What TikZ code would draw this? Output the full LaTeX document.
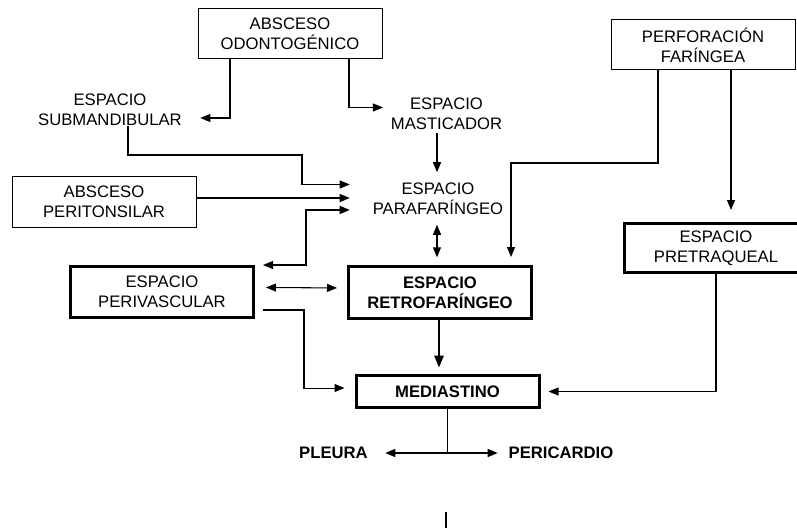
\documentclass[tikz,border=0pt]{standalone}
\usepackage{fontspec}
\setmainfont{Liberation Sans}
\usetikzlibrary{arrows.meta}

\tikzset{
  caja/.style={draw, line width=0.75pt, align=center, inner sep=0pt,
    minimum width=138pt, minimum height=37.5pt, font=\fontsize{12.5}{15}\selectfont},
  cajagruesa/.style={caja, line width=2.25pt, minimum width=137.25pt},
  texto/.style={align=center, inner sep=0pt, font=\fontsize{12.5}{15}\selectfont},
  flecha/.style={line width=0.8pt, -{Triangle[length=7.5pt,width=6pt]}},
  dobleflecha/.style={line width=0.8pt, {Triangle[length=7.5pt,width=6pt]}-{Triangle[length=7.5pt,width=6pt]}},
  flechagruesa/.style={line width=1.6pt, -{Triangle[length=9pt,width=7pt]}},
}

\begin{document}
\begin{tikzpicture}[x=0.75pt,y=-0.75pt]
	\useasboundingbox (0,0) rectangle (797,528);
	% cajas
	\node[caja] (odon) at (290,34) {ABSCESO\\ODONTOGÉNICO};
	\node[caja] (perit) at (104,202) {ABSCESO\\PERITONSILAR};
	\node[caja] (perfo) at (703,45) {PERFORACIÓN\\FARÍNGEA};
	\node[cajagruesa, minimum height=39pt] (retro) at (440,292.5) {\bfseries ESPACIO\\\bfseries RETROFARÍNGEO};
	\node[cajagruesa, minimum height=38.25pt] (periv) at (162,292) {ESPACIO\\PERIVASCULAR};
	\node[cajagruesa, minimum height=24pt] (media) at (447.5,391.5) {\bfseries MEDIASTINO};
	\node[cajagruesa, minimum height=36.75pt] (pretra) at (716,248) {ESPACIO\\PRETRAQUEAL};
	% textos sin caja
	\node[texto, minimum width=135pt] (submand) at (110,110) {ESPACIO\\SUBMANDIBULAR};
	\node[texto, minimum width=95pt, minimum height=30pt] (mastic) at (446.5,113.5) {ESPACIO\\MASTICADOR};
	\node[texto, minimum width=132pt, minimum height=39pt] (parafar) at (438,198.5) {ESPACIO\\PARAFARÍNGEO};
	\node[texto, minimum width=77.25pt, font=\fontsize{12.5}{15}\selectfont\bfseries] (pleura) at (333.5,453) {PLEURA};
	\node[texto, minimum width=94.5pt, font=\fontsize{12.5}{15}\selectfont\bfseries] (peric) at (561,453) {PERICARDIO};
	% conexiones
	\draw[flecha] ([xshift=-45pt]odon.south) |- ([yshift=-6pt]submand.east);
	\draw[flecha] ([xshift=44.25pt]odon.south) |- ([yshift=4.5pt]mastic.west);
	\draw[flecha] ([xshift=13.5pt]submand.south) |- (302,155) |- ([yshift=10.5pt]parafar.west);
	\draw[flecha] ([yshift=3pt]perit.east) -- ([yshift=3pt]perit.east -| parafar.west);
	\draw[dobleflecha] ([yshift=-8.6pt]parafar.west) -| (306,265) -- ([xshift=6pt]periv.north east);
	\draw[flecha] (parafar.north -| 437,0) ++(0,-39) -- (parafar.north -| 437,0);
	\draw[dobleflecha] (parafar.south -| 437,0) -- ++(0,32.5);
	\draw[flecha] ([xshift=-33.75pt]perfo.south) |- (511,163) -- ([xshift=53.25pt,yshift=6pt]retro.north);
	\draw[flecha] ([xshift=21pt]perfo.south) -- ([xshift=11.25pt,yshift=9pt]pretra.north);
	\draw[dobleflecha] ([xshift=8.25pt,yshift=3.4pt]periv.east) -- ([xshift=-7.5pt,yshift=3.4pt]retro.west);
	\draw[flechagruesa] ([xshift=-0.75pt]retro.south) -- ++(0,47.5);
	\draw[flecha] ([xshift=6pt,yshift=-13.5pt]periv.east) -| (304,360) |- ([xshift=-7.5pt,yshift=2.6pt]media.west);
	\draw[flecha] (pretra.south) |- ([xshift=6pt]media.east);
	\draw[line width=0.8pt] ([yshift=1.5pt]media.south) -- (media.south |- pleura.east);
	\draw[dobleflecha] (pleura.east) -- (peric.west);
	\draw[line width=0.8pt] (446,512) -- (446,528);
\end{tikzpicture}
\end{document}
